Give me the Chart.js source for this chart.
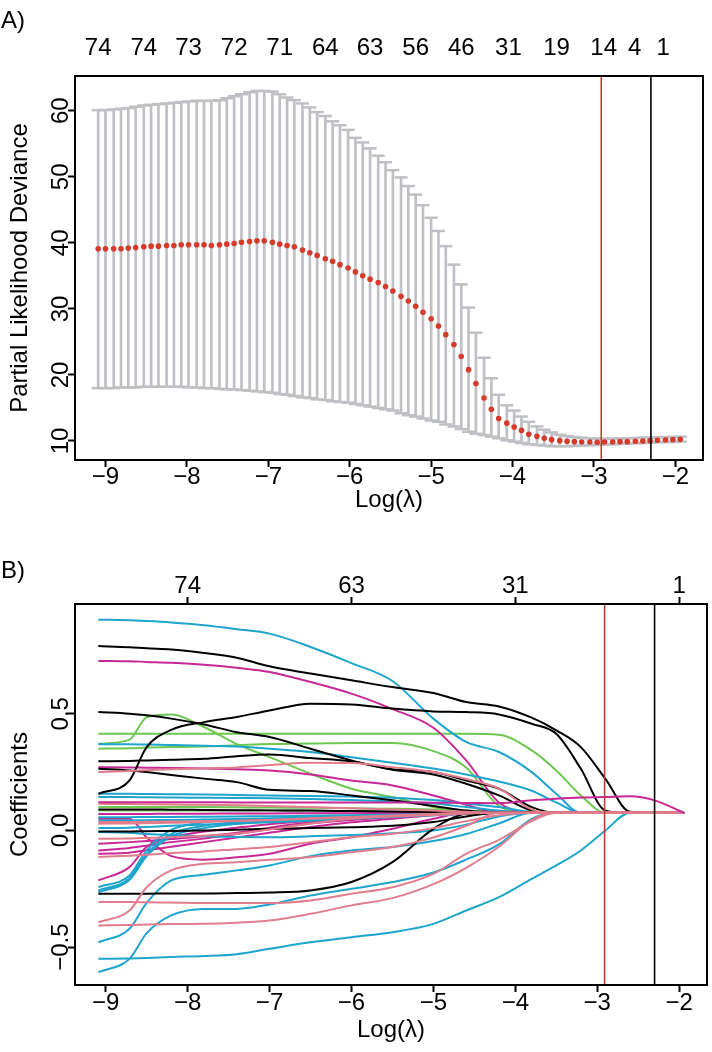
<!DOCTYPE html>
<html>
<head>
<meta charset="utf-8">
<script src="https://cdn.jsdelivr.net/npm/chart.js@4.4.1/dist/chart.umd.min.js"></script>
<style>
  body { margin: 0; background: #fff; }
  #wrap { position: relative; width: 712px; height: 1052px; font-family: "Liberation Sans", Arial, sans-serif; }
  .panel { position: absolute; left: 0; }
  .tag { position: absolute; left: 1px; font-size: 24px; line-height: 28px; color: #000; z-index: 2; }
</style>
</head>
<body>
<div id="wrap">
  <div class="panel" style="top:0"><canvas id="cvChart" width="712" height="545"></canvas></div>
  <div class="panel" style="top:545px"><canvas id="coefChart" width="712" height="507"></canvas></div>
  <div class="tag" style="top:6px">A)</div>
  <div class="tag" style="top:556px">B)</div>
</div>
<script>
// ---- panel A: cross-validation curve ----
const logLambda = [
  -9.09, -9.00, -8.90, -8.81, -8.72, -8.63, -8.53, -8.44, -8.35, -8.25,
  -8.16, -8.07, -7.98, -7.88, -7.79, -7.70, -7.60, -7.51, -7.42, -7.33,
  -7.23, -7.14, -7.05, -6.95, -6.86, -6.77, -6.68, -6.58, -6.49, -6.40,
  -6.30, -6.21, -6.12, -6.02, -5.93, -5.84, -5.75, -5.65, -5.56, -5.47,
  -5.37, -5.28, -5.19, -5.10, -5.00, -4.91, -4.82, -4.72, -4.63, -4.54,
  -4.45, -4.35, -4.26, -4.17, -4.07, -3.98, -3.89, -3.80, -3.70, -3.61,
  -3.52, -3.42, -3.33, -3.24, -3.15, -3.05, -2.96, -2.87, -2.77, -2.68,
  -2.59, -2.49, -2.40, -2.31, -2.22, -2.12, -2.03, -1.94
];
const cvMean = [
  39.1, 39.1, 39.1, 39.1, 39.2, 39.3, 39.4, 39.5, 39.5, 39.6,
  39.6, 39.7, 39.7, 39.7, 39.7, 39.6, 39.7, 39.8, 39.9, 40.1,
  40.2, 40.3, 40.3, 40.1, 39.8, 39.6, 39.4, 38.9, 38.5, 38.1,
  37.6, 37.2, 36.7, 36.2, 35.6, 35.0, 34.5, 34.0, 33.4, 32.7,
  31.9, 31.2, 30.4, 29.5, 28.5, 27.4, 26.1, 24.6, 22.8, 20.8,
  18.7, 16.5, 14.8, 13.4, 12.7, 12.1, 11.6, 11.0, 10.7, 10.4,
  10.2, 10.05, 9.95, 9.9, 9.85, 9.85, 9.8, 9.85, 9.85, 9.9,
  9.9, 9.95, 10.0, 10.05, 10.1, 10.15, 10.2, 10.25
];
const cvUpper = [
  60.1, 60.1, 60.2, 60.3, 60.4, 60.6, 60.8, 60.9, 61.0, 61.1,
  61.2, 61.3, 61.4, 61.5, 61.5, 61.5, 61.6, 61.9, 62.2, 62.5,
  62.8, 63.0, 63.0, 62.9, 62.5, 62.0, 61.6, 61.1, 60.5, 59.8,
  59.2, 58.4, 57.8, 57.1, 55.9, 55.2, 54.3, 53.2, 52.2, 51.0,
  49.9, 48.6, 47.3, 45.7, 43.8, 41.8, 39.5, 36.7, 33.7, 30.2,
  26.4, 22.6, 19.5, 17.0, 15.4, 14.6, 13.7, 12.9, 12.2, 11.7,
  11.3, 10.95, 10.75, 10.6, 10.5, 10.4, 10.35, 10.35, 10.35, 10.4,
  10.4, 10.45, 10.5, 10.5, 10.55, 10.6, 10.6, 10.65
];
const cvLower = [
  18.0, 18.0, 18.0, 18.1, 18.1, 18.1, 18.2, 18.2, 18.2, 18.2,
  18.2, 18.2, 18.1, 18.1, 18.0, 18.0, 17.9, 17.8, 17.8, 17.7,
  17.6, 17.5, 17.4, 17.3, 17.1, 17.0, 16.8, 16.6, 16.5, 16.3,
  16.2, 16.0, 15.9, 15.8, 15.6, 15.4, 15.2, 15.0, 14.8, 14.6,
  14.2, 13.9, 13.7, 13.4, 13.1, 12.9, 12.5, 12.2, 11.8, 11.4,
  11.1, 10.9, 10.65, 10.4, 10.1, 9.9, 9.7, 9.5, 9.4, 9.3,
  9.2, 9.2, 9.2, 9.25, 9.3, 9.35, 9.4, 9.45, 9.5, 9.55,
  9.6, 9.65, 9.7, 9.75, 9.8, 9.85, 9.85, 9.9
];
const nzPosA = [-9.09, -8.53, -7.98, -7.42, -6.86, -6.30, -5.75, -5.19, -4.63, -4.05, -3.46, -2.88, -2.50, -2.15];
const nzLabelsA = ["74", "74", "73", "72", "71", "64", "63", "56", "46", "31", "19", "14", "4", "1"];
const cvTicks = [10, 20, 30, 40, 50, 60];
const cvRange = [7.12, 65.26];

// ---- shared ----
const xRange = [-9.375, -1.66];
const xTicks = [-9, -8, -7, -6, -5, -4, -3, -2];
const xTickLabels = ["\u22129", "\u22128", "\u22127", "\u22126", "\u22125", "\u22124", "\u22123", "\u22122"];
const lambdaMin = -2.91;
const lambda1se = -2.30;

// ---- panel B: coefficient paths ----
const pathX = [-9.09, -8.71, -8.5, -8.2, -7.8, -7.4, -7.0, -6.5, -6.0, -5.5, -5.0, -4.6, -4.2, -3.8, -3.5, -3.2, -2.9, -2.6, -2.3, -1.94];
const coefTopPos = [-8, -6, -4, -2];
const coefTopLabels = ["74", "63", "31", "1"];
const coefTicks = [-0.5, 0, 0.5];
const coefTickLabels = ["\u22120.5", "0.0", "0.5"];
const coefRange = [-0.662, 0.97];

const longPath = [0.121, 0.121, 0.121, 0.121, 0.121, 0.120, 0.120, 0.120, 0.120, 0.120, 0.119, 0.118, 0.117, 0.129, 0.136, 0.141, 0.143, 0.146, 0.129, 0.076];

const blackPaths = [
  [0.790, 0.785, 0.780, 0.775, 0.760, 0.740, 0.703, 0.672, 0.643, 0.614, 0.589, 0.550, 0.531, 0.483, 0.429, 0.357, 0.221, 0.080, 0.076, 0.076],
  [0.507, 0.500, 0.493, 0.479, 0.454, 0.421, 0.400, 0.350, 0.300, 0.262, 0.250, 0.214, 0.179, 0.100, 0.076, 0.076, 0.076, 0.076, 0.076, 0.076],
  [0.157, 0.214, 0.357, 0.431, 0.464, 0.486, 0.514, 0.543, 0.540, 0.522, 0.510, 0.507, 0.497, 0.457, 0.414, 0.264, 0.085, 0.076, 0.076, 0.076],
  [0.296, 0.298, 0.300, 0.303, 0.307, 0.318, 0.325, 0.310, 0.295, 0.260, 0.240, 0.200, 0.150, 0.085, 0.076, 0.076, 0.076, 0.076, 0.076, 0.076],
  [0.264, 0.257, 0.250, 0.238, 0.222, 0.207, 0.174, 0.169, 0.150, 0.129, 0.105, 0.085, 0.076, 0.076, 0.076, 0.076, 0.076, 0.076, 0.076, 0.076],
  [-0.271, -0.271, -0.271, -0.270, -0.270, -0.268, -0.266, -0.257, -0.221, -0.136, 0.007, 0.071, 0.076, 0.076, 0.076, 0.076, 0.076, 0.076, 0.076, 0.076],
  [-0.004, -0.004, -0.003, -0.002, 0.000, 0.003, 0.007, 0.010, 0.014, 0.020, 0.036, 0.060, 0.076, 0.076, 0.076, 0.076, 0.076, 0.076, 0.076, 0.076],
  [0.090, 0.090, 0.090, 0.089, 0.088, 0.087, 0.086, 0.085, 0.083, 0.081, 0.079, 0.077, 0.076, 0.076, 0.076, 0.076, 0.076, 0.076, 0.076, 0.076]
];
const tealPaths = [
  [0.903, 0.900, 0.897, 0.891, 0.879, 0.862, 0.843, 0.786, 0.717, 0.640, 0.479, 0.379, 0.336, 0.250, 0.157, 0.076, 0.076, 0.076, 0.076, 0.076],
  [0.369, 0.369, 0.368, 0.366, 0.363, 0.360, 0.350, 0.336, 0.314, 0.290, 0.265, 0.240, 0.210, 0.170, 0.120, 0.076, 0.076, 0.076, 0.076, 0.076],
  [-0.550, -0.548, -0.546, -0.542, -0.538, -0.530, -0.507, -0.479, -0.457, -0.436, -0.400, -0.343, -0.286, -0.207, -0.150, -0.086, 0.000, 0.076, 0.076, 0.076],
  [-0.479, -0.421, -0.310, -0.214, -0.190, -0.171, -0.150, -0.110, -0.086, -0.071, -0.045, -0.015, 0.030, 0.076, 0.076, 0.076, 0.076, 0.076, 0.076, 0.076],
  [-0.607, -0.550, -0.440, -0.364, -0.336, -0.336, -0.317, -0.279, -0.250, -0.221, -0.180, -0.125, -0.060, 0.050, 0.076, 0.076, 0.076, 0.076, 0.076, 0.076],
  [0.157, 0.157, 0.156, 0.155, 0.154, 0.152, 0.150, 0.148, 0.145, 0.140, 0.130, 0.115, 0.100, 0.080, 0.076, 0.076, 0.076, 0.076, 0.076, 0.076],
  [0.143, 0.143, 0.142, 0.141, 0.140, 0.139, 0.138, 0.135, 0.130, 0.125, 0.115, 0.100, 0.085, 0.076, 0.076, 0.076, 0.076, 0.076, 0.076, 0.076],
  [0.057, 0.057, 0.058, 0.058, 0.059, 0.060, 0.061, 0.063, 0.065, 0.067, 0.070, 0.073, 0.076, 0.076, 0.076, 0.076, 0.076, 0.076, 0.076, 0.076],
  [-0.007, -0.010, -0.015, -0.020, -0.025, -0.028, -0.029, -0.025, -0.020, -0.012, 0.000, 0.025, 0.060, 0.076, 0.076, 0.076, 0.076, 0.076, 0.076, 0.076],
  [-0.243, -0.193, -0.085, 0.002, 0.035, 0.045, 0.050, 0.055, 0.060, 0.065, 0.070, 0.074, 0.076, 0.076, 0.076, 0.076, 0.076, 0.076, 0.076, 0.076],
  [-0.257, -0.205, -0.100, -0.015, 0.020, 0.035, 0.042, 0.050, 0.057, 0.063, 0.069, 0.073, 0.076, 0.076, 0.076, 0.076, 0.076, 0.076, 0.076, 0.076],
  [-0.264, -0.212, -0.110, -0.025, 0.010, 0.028, 0.038, 0.048, 0.055, 0.062, 0.068, 0.073, 0.076, 0.076, 0.076, 0.076, 0.076, 0.076, 0.076, 0.076],
  [0.043, 0.043, 0.044, 0.045, 0.047, 0.049, 0.051, 0.055, 0.060, 0.064, 0.068, 0.072, 0.076, 0.076, 0.076, 0.076, 0.076, 0.076, 0.076, 0.076],
  [0.010, 0.012, 0.015, 0.020, 0.025, 0.030, 0.035, 0.042, 0.050, 0.058, 0.065, 0.071, 0.076, 0.076, 0.076, 0.076, 0.076, 0.076, 0.076, 0.076]
];
const magentaPaths = [
  [0.726, 0.725, 0.722, 0.718, 0.710, 0.697, 0.679, 0.636, 0.586, 0.520, 0.440, 0.300, 0.120, 0.076, 0.076, 0.076, 0.076, 0.076, 0.076, 0.076],
  [0.271, 0.270, 0.269, 0.268, 0.265, 0.262, 0.257, 0.240, 0.214, 0.193, 0.150, 0.110, 0.076, 0.076, 0.076, 0.076, 0.076, 0.076, 0.076, 0.076],
  [0.050, 0.050, -0.030, -0.110, -0.125, -0.115, -0.100, -0.057, -0.029, 0.007, 0.050, 0.076, 0.076, 0.076, 0.076, 0.076, 0.076, 0.076, 0.076, 0.076],
  [-0.214, -0.157, -0.070, -0.030, -0.005, 0.012, 0.027, 0.040, 0.055, 0.065, 0.072, 0.076, 0.076, 0.076, 0.076, 0.076, 0.076, 0.076, 0.076, 0.076],
  [-0.057, -0.050, -0.045, -0.037, -0.025, -0.010, 0.012, 0.035, 0.050, 0.060, 0.070, 0.076, 0.076, 0.076, 0.076, 0.076, 0.076, 0.076, 0.076, 0.076],
  [-0.086, -0.075, -0.065, -0.050, -0.035, -0.015, 0.005, 0.030, 0.045, 0.058, 0.068, 0.076, 0.076, 0.076, 0.076, 0.076, 0.076, 0.076, 0.076, 0.076],
  [0.071, 0.071, 0.071, 0.072, 0.072, 0.073, 0.073, 0.074, 0.074, 0.075, 0.075, 0.076, 0.076, 0.076, 0.076, 0.076, 0.076, 0.076, 0.076, 0.076],
  [-0.100, -0.095, -0.085, -0.070, -0.050, -0.030, -0.010, 0.015, 0.035, 0.050, 0.065, 0.076, 0.076, 0.076, 0.076, 0.076, 0.076, 0.076, 0.076, 0.076]
];
const pinkPaths = [
  [0.250, 0.255, 0.258, 0.262, 0.266, 0.270, 0.280, 0.290, 0.289, 0.271, 0.250, 0.220, 0.180, 0.090, 0.076, 0.076, 0.076, 0.076, 0.076, 0.076],
  [-0.393, -0.343, -0.243, -0.171, -0.143, -0.136, -0.126, -0.114, -0.093, -0.071, -0.030, 0.020, 0.076, 0.076, 0.076, 0.076, 0.076, 0.076, 0.076, 0.076],
  [0.036, 0.036, 0.037, 0.038, 0.040, 0.042, 0.045, 0.050, 0.055, 0.060, 0.066, 0.072, 0.076, 0.076, 0.076, 0.076, 0.076, 0.076, 0.076, 0.076],
  [-0.036, -0.034, -0.032, -0.029, -0.022, -0.014, 0.005, 0.030, 0.050, 0.062, 0.070, 0.076, 0.076, 0.076, 0.076, 0.076, 0.076, 0.076, 0.076, 0.076],
  [-0.114, -0.108, -0.104, -0.097, -0.090, -0.080, -0.071, -0.050, -0.029, -0.014, 0.010, 0.040, 0.065, 0.076, 0.076, 0.076, 0.076, 0.076, 0.076, 0.076],
  [-0.307, -0.307, -0.308, -0.309, -0.311, -0.311, -0.311, -0.300, -0.271, -0.243, -0.186, -0.100, -0.040, 0.040, 0.076, 0.076, 0.076, 0.076, 0.076, 0.076],
  [-0.407, -0.405, -0.403, -0.401, -0.400, -0.395, -0.386, -0.357, -0.321, -0.290, -0.230, -0.160, -0.070, 0.045, 0.076, 0.076, 0.076, 0.076, 0.076, 0.076],
  [0.114, 0.113, 0.112, 0.111, 0.110, 0.108, 0.105, 0.100, 0.095, 0.090, 0.085, 0.080, 0.076, 0.076, 0.076, 0.076, 0.076, 0.076, 0.076, 0.076],
  [0.029, 0.030, 0.031, 0.033, 0.036, 0.040, 0.045, 0.052, 0.058, 0.064, 0.070, 0.074, 0.076, 0.076, 0.076, 0.076, 0.076, 0.076, 0.076, 0.076]
];
const greenPaths = [
  [0.371, 0.389, 0.485, 0.497, 0.443, 0.370, 0.314, 0.243, 0.179, 0.143, 0.100, 0.076, 0.076, 0.076, 0.076, 0.076, 0.076, 0.076, 0.076, 0.076],
  [0.414, 0.414, 0.414, 0.414, 0.414, 0.414, 0.414, 0.414, 0.414, 0.414, 0.414, 0.414, 0.410, 0.343, 0.257, 0.150, 0.076, 0.076, 0.076, 0.076],
  [0.350, 0.352, 0.355, 0.357, 0.360, 0.365, 0.370, 0.372, 0.375, 0.375, 0.340, 0.270, 0.105, 0.076, 0.076, 0.076, 0.076, 0.076, 0.076, 0.076],
  [0.100, 0.100, 0.100, 0.100, 0.100, 0.099, 0.098, 0.097, 0.095, 0.093, 0.090, 0.085, 0.080, 0.076, 0.076, 0.076, 0.076, 0.076, 0.076, 0.076],
  [0.086, 0.086, 0.086, 0.086, 0.086, 0.085, 0.085, 0.084, 0.083, 0.082, 0.080, 0.078, 0.076, 0.076, 0.076, 0.076, 0.076, 0.076, 0.076, 0.076]
];

const barGrey = "#BEC0C5";
const dotRed = "#D63A2A";
const vlineRed = "#B8402F";
const colBlack = "#000000";
const colTeal = "#1EA5CD";
const colMagenta = "#C82896";
const colPink = "#E17D8C";
const colGreen = "#6EC850";

Chart.defaults.font.family = "'Liberation Sans', Arial, sans-serif";
Chart.defaults.font.size = 24;
Chart.defaults.color = "#000";

const framePlugin = {
  id: "frame",
  afterDatasetsDraw(chart) {
    const { ctx, chartArea: a } = chart;
    ctx.save();
    ctx.strokeStyle = "#000";
    ctx.lineWidth = 2;
    ctx.strokeRect(a.left, a.top, a.right - a.left, a.bottom - a.top);
    ctx.restore();
  },
};

function fixedTicks(values) {
  return (scale) => {
    scale.ticks = values.map((v) => ({ value: v }));
  };
}

function tickGrid(len) {
  return { offset: false, drawOnChartArea: false, drawTicks: len > 0, tickLength: len, tickWidth: 2, tickColor: "#000" };
}

function vline(x, range, color) {
  return {
    type: "line",
    data: [{ x: x, y: range[0] }, { x: x, y: range[1] }],
    borderColor: color,
    borderWidth: 1.6,
    pointRadius: 0,
  };
}

function makeAxes(cfg) {
  return {
    x: {
      type: "linear",
      position: "bottom",
      offset: false,
      min: xRange[0],
      max: xRange[1],
      afterBuildTicks: fixedTicks(xTicks),
      afterFit: (s) => { s.height = cfg.bottomH; },
      ticks: { autoSkip: false, maxRotation: 0, padding: cfg.xPad, callback: (v, i) => xTickLabels[i] },
      grid: tickGrid(7),
      border: { display: false },
      title: { display: true, text: "Log(\u03bb)", padding: { top: 0, bottom: cfg.xTitlePad } },
    },
    x2: {
      type: "linear",
      position: "top",
      offset: false,
      min: xRange[0],
      max: xRange[1],
      afterBuildTicks: fixedTicks(cfg.topPos),
      afterFit: (s) => { s.height = cfg.topH; },
      ticks: { autoSkip: false, maxRotation: 0, padding: cfg.topPad, callback: (v, i) => cfg.topLabels[i] },
      grid: tickGrid(cfg.topTick),
      border: { display: false },
    },
    y: {
      type: "linear",
      min: cfg.yRange[0],
      max: cfg.yRange[1],
      afterBuildTicks: fixedTicks(cfg.yTicks),
      afterFit: (s) => { s.width = 75; },
      ticks: { minRotation: 90, maxRotation: 90, crossAlign: "center", padding: cfg.yPad, callback: (v, i) => cfg.yLabels[i] },
      grid: tickGrid(7),
      border: { display: false },
      title: { display: true, text: cfg.yTitle, padding: { top: 5.6, bottom: 0 } },
    },
  };
}

const baseOptions = {
  responsive: false,
  animation: false,
  events: [],
  plugins: { legend: { display: false }, tooltip: { enabled: false } },
};

// panel A
new Chart(document.getElementById("cvChart"), {
  type: "scatter",
  data: {
    datasets: [
      vline(lambdaMin, cvRange, vlineRed),
      vline(lambda1se, cvRange, colBlack),
      {
        data: logLambda.map((x, i) => ({ x: x, y: cvMean[i] })),
        pointRadius: 2.8,
        pointBackgroundColor: dotRed,
        pointBorderWidth: 0,
      },
      {
        data: logLambda.map((x, i) => ({ x: x, y: cvUpper[i] })),
        pointStyle: "line",
        pointRadius: 6.5,
        pointBorderColor: barGrey,
        pointBorderWidth: 2.5,
      },
      {
        data: logLambda.map((x, i) => ({ x: x, y: cvLower[i] })),
        pointStyle: "line",
        pointRadius: 6.5,
        pointBorderColor: barGrey,
        pointBorderWidth: 2.5,
      },
      {
        type: "bar",
        data: logLambda.map((x, i) => ({ x: x, y: [cvLower[i], cvUpper[i]] })),
        backgroundColor: barGrey,
        barThickness: 2,
      },
    ],
  },
  options: Object.assign({}, baseOptions, {
    layout: { padding: { left: 0, right: 5, top: 0, bottom: 0 } },
    scales: makeAxes({
      bottomH: 85, xPad: -4.4, xTitlePad: 30.6,
      topPos: nzPosA, topLabels: nzLabelsA, topH: 76, topPad: 13.6, topTick: 0,
      yRange: cvRange, yTicks: cvTicks, yLabels: cvTicks.map(String), yPad: -6.5,
      yTitle: "Partial Likelihood Deviance",
    }),
  }),
  plugins: [framePlugin],
});

// panel B
const coefDatasets = [vline(lambdaMin, coefRange, vlineRed), vline(lambda1se, coefRange, colBlack)];
function addPaths(paths, color) {
  paths.forEach((p) => {
    coefDatasets.push({
      type: "line",
      data: pathX.map((x, i) => ({ x: x, y: p[i] })),
      borderColor: color,
      borderWidth: 2,
      pointRadius: 0,
      cubicInterpolationMode: "monotone",
    });
  });
}
addPaths([longPath], colMagenta);
addPaths(pinkPaths, colPink);
addPaths(blackPaths, colBlack);
addPaths(tealPaths, colTeal);
addPaths(magentaPaths, colMagenta);
addPaths(greenPaths, colGreen);

new Chart(document.getElementById("coefChart"), {
  type: "scatter",
  data: { datasets: coefDatasets },
  options: Object.assign({}, baseOptions, {
    layout: { padding: { left: 0, right: 5, top: 0, bottom: 0 } },
    scales: makeAxes({
      bottomH: 67, xPad: -3.4, xTitlePad: 7.6,
      topPos: coefTopPos, topLabels: coefTopLabels, topH: 59, topPad: -3.4, topTick: 7,
      yRange: coefRange, yTicks: coefTicks, yLabels: coefTickLabels, yPad: -17,
      yTitle: "Coefficients",
    }),
  }),
  plugins: [framePlugin],
});
</script>
</body>
</html>
